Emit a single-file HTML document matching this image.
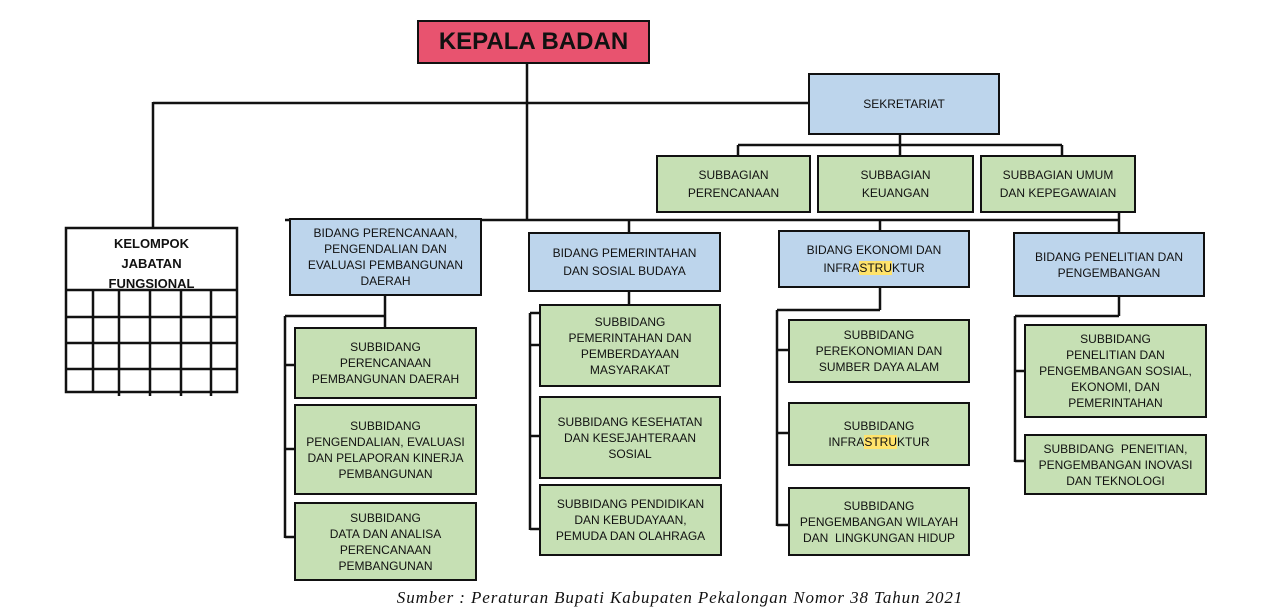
<!DOCTYPE html>
<html><head><meta charset="utf-8"><style>
body{margin:0;width:1279px;height:613px;background:#fff;position:relative;overflow:hidden;font-family:"Liberation Sans",sans-serif;}
.b{position:absolute;box-sizing:border-box;border:2.5px solid #111;display:flex;align-items:center;justify-content:center;text-align:center;font-size:12px;line-height:16px;color:#111;}
.bl{background:#bdd5ec;}
.g{background:#c6e0b4;}
svg{position:absolute;left:0;top:0;}
.hl{background:#ffe36b;}
</style></head><body>
<svg width="1279" height="613" stroke="#111" stroke-width="2.5" fill="none">
<line x1="527" y1="63" x2="527" y2="220"/>
<line x1="153" y1="103" x2="808" y2="103"/>
<line x1="153" y1="102" x2="153" y2="228"/>
<line x1="900" y1="134" x2="900" y2="145"/>
<line x1="738" y1="145" x2="1062" y2="145"/>
<line x1="738" y1="145" x2="738" y2="155"/>
<line x1="900" y1="145" x2="900" y2="155"/>
<line x1="1062" y1="145" x2="1062" y2="155"/>
<line x1="285" y1="220" x2="1119" y2="220"/>
<line x1="629" y1="220" x2="629" y2="232"/>
<line x1="880" y1="220" x2="880" y2="230"/>
<line x1="1119" y1="212" x2="1119" y2="232"/>
<line x1="385" y1="295" x2="385" y2="327"/>
<line x1="285" y1="316" x2="385" y2="316"/>
<line x1="285" y1="316" x2="285" y2="538"/>
<line x1="285" y1="365" x2="294" y2="365"/>
<line x1="285" y1="449" x2="294" y2="449"/>
<line x1="285" y1="537" x2="294" y2="537"/>
<line x1="629" y1="291" x2="629" y2="304"/>
<line x1="530" y1="313" x2="539" y2="313"/>
<line x1="530" y1="313" x2="530" y2="530"/>
<line x1="530" y1="345" x2="539" y2="345"/>
<line x1="530" y1="436" x2="539" y2="436"/>
<line x1="530" y1="529" x2="539" y2="529"/>
<line x1="880" y1="287" x2="880" y2="310"/>
<line x1="777" y1="310" x2="880" y2="310"/>
<line x1="777" y1="310" x2="777" y2="526"/>
<line x1="777" y1="350" x2="788" y2="350"/>
<line x1="777" y1="433" x2="788" y2="433"/>
<line x1="777" y1="525" x2="788" y2="525"/>
<line x1="1119" y1="296" x2="1119" y2="316"/>
<line x1="1015" y1="316" x2="1119" y2="316"/>
<line x1="1015" y1="316" x2="1015" y2="462"/>
<line x1="1015" y1="371" x2="1024" y2="371"/>
<line x1="1015" y1="461" x2="1024" y2="461"/>
<rect x="66" y="228" width="171" height="164" fill="#fff"/>
<line x1="66" y1="290" x2="237" y2="290"/>
<line x1="66" y1="317" x2="237" y2="317"/>
<line x1="66" y1="343" x2="237" y2="343"/>
<line x1="66" y1="369" x2="237" y2="369"/>
<line x1="93" y1="290" x2="93" y2="392"/>
<line x1="119" y1="290" x2="119" y2="396"/>
<line x1="150" y1="290" x2="150" y2="396"/>
<line x1="181" y1="290" x2="181" y2="396"/>
<line x1="211" y1="290" x2="211" y2="396"/>
</svg>
<div style="position:absolute;left:66px;top:234px;width:171px;height:56px;overflow:hidden;text-align:center;font-weight:bold;font-size:13px;line-height:20px;color:#111;">KELOMPOK<br>JABATAN<br>FUNGSIONAL</div>
<div class="b" style="left:417px;top:20px;width:233px;height:44px;background:#e8536f;font-size:24px;font-weight:bold;"><div>KEPALA BADAN</div></div>
<div class="b bl" style="left:808px;top:73px;width:192px;height:62px;"><div>SEKRETARIAT</div></div>
<div class="b g" style="left:656px;top:155px;width:155px;height:58px;line-height:18px;"><div>SUBBAGIAN<br>PERENCANAAN</div></div>
<div class="b g" style="left:817px;top:155px;width:157px;height:58px;line-height:18px;"><div>SUBBAGIAN<br>KEUANGAN</div></div>
<div class="b g" style="left:980px;top:155px;width:156px;height:58px;line-height:18px;"><div>SUBBAGIAN UMUM<br>DAN KEPEGAWAIAN</div></div>
<div class="b bl" style="left:289px;top:218px;width:193px;height:78px;"><div>BIDANG PERENCANAAN,<br>PENGENDALIAN DAN<br>EVALUASI PEMBANGUNAN<br>DAERAH</div></div>
<div class="b bl" style="left:528px;top:232px;width:193px;height:60px;line-height:18px;"><div>BIDANG PEMERINTAHAN<br>DAN SOSIAL BUDAYA</div></div>
<div class="b bl" style="left:778px;top:230px;width:192px;height:58px;line-height:18px;"><div>BIDANG EKONOMI DAN<br>INFRA<span class="hl">STRU</span>KTUR</div></div>
<div class="b bl" style="left:1013px;top:232px;width:192px;height:65px;"><div>BIDANG PENELITIAN DAN<br>PENGEMBANGAN</div></div>
<div class="b g" style="left:294px;top:327px;width:183px;height:72px;"><div>SUBBIDANG<br>PERENCANAAN<br>PEMBANGUNAN DAERAH</div></div>
<div class="b g" style="left:294px;top:404px;width:183px;height:91px;"><div>SUBBIDANG<br>PENGENDALIAN, EVALUASI<br>DAN PELAPORAN KINERJA<br>PEMBANGUNAN</div></div>
<div class="b g" style="left:294px;top:502px;width:183px;height:79px;"><div>SUBBIDANG<br>DATA DAN ANALISA<br>PERENCANAAN<br>PEMBANGUNAN</div></div>
<div class="b g" style="left:539px;top:304px;width:182px;height:83px;"><div>SUBBIDANG<br>PEMERINTAHAN DAN<br>PEMBERDAYAAN<br>MASYARAKAT</div></div>
<div class="b g" style="left:539px;top:396px;width:182px;height:83px;"><div>SUBBIDANG KESEHATAN<br>DAN KESEJAHTERAAN<br>SOSIAL</div></div>
<div class="b g" style="left:539px;top:484px;width:183px;height:72px;"><div>SUBBIDANG PENDIDIKAN<br>DAN KEBUDAYAAN,<br>PEMUDA DAN OLAHRAGA</div></div>
<div class="b g" style="left:788px;top:319px;width:182px;height:64px;"><div>SUBBIDANG<br>PEREKONOMIAN DAN<br>SUMBER DAYA ALAM</div></div>
<div class="b g" style="left:788px;top:402px;width:182px;height:64px;"><div>SUBBIDANG<br>INFRA<span class="hl">STRU</span>KTUR</div></div>
<div class="b g" style="left:788px;top:487px;width:182px;height:69px;"><div>SUBBIDANG<br>PENGEMBANGAN WILAYAH<br>DAN&nbsp; LINGKUNGAN HIDUP</div></div>
<div class="b g" style="left:1024px;top:324px;width:183px;height:94px;"><div>SUBBIDANG<br>PENELITIAN DAN<br>PENGEMBANGAN SOSIAL,<br>EKONOMI, DAN<br>PEMERINTAHAN</div></div>
<div class="b g" style="left:1024px;top:434px;width:183px;height:61px;"><div>SUBBIDANG&nbsp; PENEITIAN,<br>PENGEMBANGAN INOVASI<br>DAN TEKNOLOGI</div></div>
<div style="position:absolute;left:280px;top:588px;width:800px;text-align:center;font-family:'Liberation Serif',serif;font-style:italic;font-size:17px;letter-spacing:0.9px;color:#111;">Sumber : Peraturan Bupati Kabupaten Pekalongan Nomor 38 Tahun 2021</div>
</body></html>
